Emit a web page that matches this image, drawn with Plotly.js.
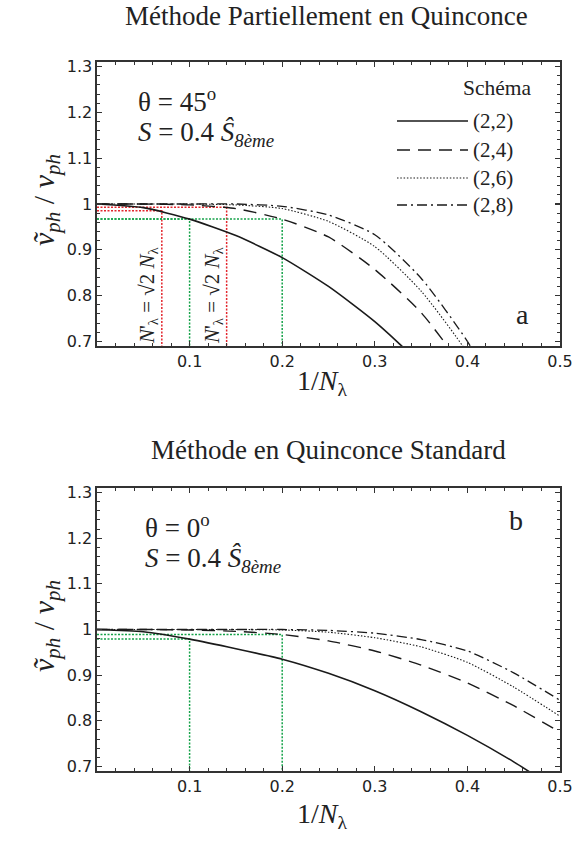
<!DOCTYPE html>
<html>
<head>
<meta charset="utf-8">
<script src="https://cdn.plot.ly/plotly-3.0.1.min.js"></script>
<style>
  html, body { margin: 0; padding: 0; background: #fff; }
  #chart { width: 574px; height: 841px; }
</style>
</head>
<body>
<div id="chart"></div>
<script>
// ---- Panel a : partially staggered scheme, theta = 45 deg ----
const invNTop = [0, 0.05, 0.10, 0.15, 0.20, 0.25, 0.30, 0.35, 0.40, 0.45];
const topS22 = [1.000, 0.992, 0.967, 0.931, 0.883, 0.820, 0.743, 0.650, 0.540, 0.420];
const topS24 = [1.000, 1.000, 0.998, 0.990, 0.967, 0.928, 0.857, 0.763, 0.630, 0.480];
const topS26 = [1.000, 1.000, 1.000, 0.998, 0.990, 0.962, 0.907, 0.810, 0.675, 0.500];
const topS28 = [1.000, 1.000, 1.000, 1.000, 0.995, 0.976, 0.933, 0.838, 0.700, 0.520];

// guide lines (1/N, ratio) for panel a
const topRedX = [0.07, 0.14];
const topRedY = [0.985, 0.993];
const topGreenX = [0.10, 0.20];
const topGreenY = [0.967, 0.967];

// ---- Panel b : standard staggered scheme, theta = 0 deg ----
const invNBot = [0, 0.05, 0.10, 0.15, 0.20, 0.25, 0.30, 0.35, 0.40, 0.45, 0.50];
const botS22 = [1.000, 0.995, 0.979, 0.958, 0.935, 0.904, 0.866, 0.820, 0.768, 0.710, 0.645];
const botS24 = [1.000, 1.000, 0.999, 0.996, 0.989, 0.975, 0.953, 0.922, 0.883, 0.833, 0.775];
const botS26 = [1.000, 1.000, 1.000, 1.000, 0.999, 0.994, 0.982, 0.962, 0.928, 0.874, 0.810];
const botS28 = [1.000, 1.000, 1.000, 1.000, 1.000, 0.998, 0.992, 0.978, 0.953, 0.905, 0.845];

const botGreenX = [0.10, 0.20];
const botGreenY = [0.979, 0.989];

const schemeNames = ['(2,2)', '(2,4)', '(2,6)', '(2,8)'];
const xTicks = [0.1, 0.2, 0.3, 0.4, 0.5];
const xTickText = ['0.1', '0.2', '0.3', '0.4', '0.5'];
const yTicks = [0.7, 0.8, 0.9, 1.0, 1.1, 1.2, 1.3];
const yTickText = ['0.7', '0.8', '0.9', '1', '1.1', '1.2', '1.3'];

const Y_MIN = 0.69, Y_MAX = 1.31;
const INK = '#1a1a1a';
const RED = '#e3262d';
const GREEN = '#16a34a';
const SERIF = "'Liberation Serif', 'Times New Roman', serif";
const SANS = "'DejaVu Sans', 'Liberation Sans', sans-serif";

const dashes = ['solid', '13px,8px', '1.5px,1.8px', '10px,4px,2px,4px'];
const widths = [1.6, 1.4, 1.1, 1.3];

function curve(x, y, i, xa, ya) {
  return {
    type: 'scatter', mode: 'lines', x: x, y: y, xaxis: xa, yaxis: ya,
    name: schemeNames[i], showlegend: false, hoverinfo: 'skip',
    line: { color: INK, width: widths[i], dash: dashes[i], shape: 'spline', smoothing: 0.6 }
  };
}

function guide(gx, gy, color, xa, ya) {
  return {
    type: 'scatter', mode: 'lines', x: [0, gx, gx], y: [gy, gy, Y_MIN],
    xaxis: xa, yaxis: ya, showlegend: false, hoverinfo: 'skip',
    line: { color: color, width: 1.5, dash: '2px,1.5px' }
  };
}

const traces = [];
topRedX.forEach((gx, k) => traces.push(guide(gx, topRedY[k], RED, 'x', 'y')));
topGreenX.forEach((gx, k) => traces.push(guide(gx, topGreenY[k], GREEN, 'x', 'y')));
botGreenX.forEach((gx, k) => traces.push(guide(gx, botGreenY[k], GREEN, 'x2', 'y2')));

[topS22, topS24, topS26, topS28].forEach((s, i) => traces.push(curve(invNTop, s, i, 'x', 'y')));
[botS22, botS24, botS26, botS28].forEach((s, i) => traces.push(curve(invNBot, s, i, 'x2', 'y2')));

const tickFont = { family: SANS, size: 16, color: '#222' };

const xAxisBase = {
  range: [0, 0.5], tickmode: 'array', tickvals: xTicks, ticktext: xTickText,
  showline: true, mirror: 'allticks', linecolor: '#333', linewidth: 1.6,
  ticks: 'inside', ticklen: 5, tickwidth: 1.2, tickcolor: '#333',
  minor: { ticks: 'inside', ticklen: 3, tickwidth: 1, tickcolor: '#333', dtick: 0.02, tick0: 0 },
  showgrid: false, zeroline: false, fixedrange: true,
  tickfont: tickFont
};
const yAxisBase = {
  range: [Y_MIN, Y_MAX], tickmode: 'array', tickvals: yTicks, ticktext: yTickText,
  showline: true, mirror: 'allticks', linecolor: '#333', linewidth: 1.6,
  ticks: 'inside', ticklen: 5, tickwidth: 1.2, tickcolor: '#333',
  minor: { ticks: 'inside', ticklen: 3, tickwidth: 1, tickcolor: '#333', dtick: 0.02, tick0: 0.7 },
  showgrid: false, zeroline: false, fixedrange: true,
  tickfont: tickFont
};

const W = 574, H = 841;
const px = v => v / W;
const py = v => 1 - v / H;

function txt(text, x, y, size, opts) {
  return Object.assign({
    xref: 'paper', yref: 'paper', x: px(x), y: py(y), text: text, showarrow: false,
    font: { family: SERIF, size: size, color: '#222' }, xanchor: 'center', yanchor: 'middle'
  }, opts || {});
}

const yTitle = '<i>ṽ</i><sub><i>ph</i></sub> / <i>v</i><sub><i>ph</i></sub>';
const xTitle = '1/<i>N</i><sub>λ</sub>';
const sLine = '<i>S</i> = 0.4 <i>Ŝ</i><sub><i>8ème</i></sub>';
const nLabel = '<i>N</i>\'<sub>λ</sub> = √2 <i>N</i><sub>λ</sub>';

const annotations = [
  txt('Méthode Partiellement en Quinconce', 326, 16, 27),
  txt('Méthode en Quinconce Standard', 328, 450, 27),
  txt(yTitle, 46, 200, 30, { textangle: -90 }),
  txt(yTitle, 46, 626, 30, { textangle: -90 }),
  txt(xTitle, 322, 382, 28),
  txt(xTitle, 322, 815, 28),
  txt('θ = 45<sup>o</sup>', 136, 100, 27, { xanchor: 'left' }),
  txt(sLine, 136, 134, 27, { xanchor: 'left' }),
  txt('θ = 0<sup>o</sup>', 143, 526, 27, { xanchor: 'left' }),
  txt(sLine, 143, 560, 27, { xanchor: 'left' }),
  txt('a', 522, 314, 28),
  txt('b', 516, 520, 28),
  txt(nLabel, 148, 295, 21, { textangle: -90 }),
  txt(nLabel, 213, 295, 21, { textangle: -90 }),
  txt('Schéma', 497, 88, 21.5)
];

// legend keys drawn by hand so the samples match the long line style
const keyY = [121, 150, 178, 205];
const shapes = [];
schemeNames.forEach((nm, i) => {
  shapes.push({
    type: 'line', xref: 'paper', yref: 'paper',
    x0: px(397), x1: px(468), y0: py(keyY[i]), y1: py(keyY[i]),
    line: { color: INK, width: widths[i], dash: dashes[i] }
  });
  annotations.push(txt(nm, 471, keyY[i], 21, { xanchor: 'left' }));
});

const layout = {
  width: W, height: H,
  margin: { l: 0, r: 0, t: 0, b: 0 },
  paper_bgcolor: '#fff', plot_bgcolor: '#fff',
  showlegend: false,
  font: { family: SERIF, size: 16, color: '#222' },
  xaxis: Object.assign({}, xAxisBase, { domain: [px(97), px(560)], anchor: 'y' }),
  yaxis: Object.assign({}, yAxisBase, { domain: [py(346), py(62)], anchor: 'x' }),
  xaxis2: Object.assign({}, xAxisBase, { domain: [px(97), px(560)], anchor: 'y2' }),
  yaxis2: Object.assign({}, yAxisBase, { domain: [py(771), py(488)], anchor: 'x2' }),
  annotations: annotations,
  shapes: shapes
};

Plotly.newPlot('chart', traces, layout, { staticPlot: true, displayModeBar: false });
</script>
</body>
</html>
